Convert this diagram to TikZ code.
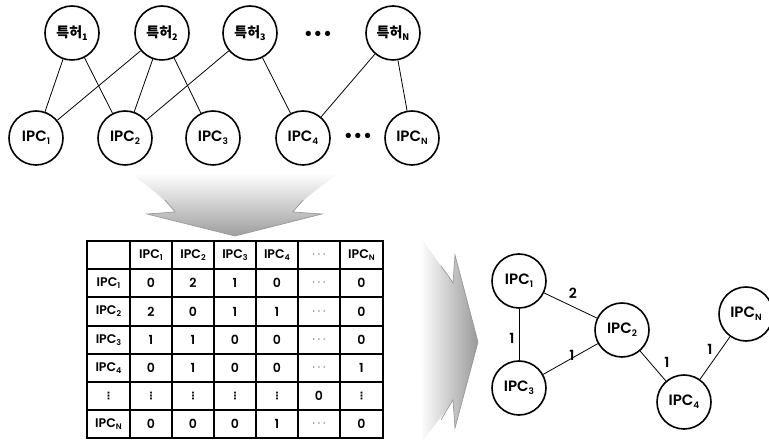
\documentclass[tikz,border=0pt]{standalone}
\usepackage{fontspec}
\setmainfont{Poppins}[UprightFont={* Medium},BoldFont={* SemiBold}]
\newfontfamily\kr{Noto Sans CJK KR}
\newfontfamily\dv{DejaVu Sans}
\newcommand\lo[1]{\raisebox{-0.35ex}{\fontsize{9}{9}\selectfont #1}}
\newcommand\tlo[1]{\raisebox{-0.3ex}{\fontsize{8}{8}\selectfont #1}}
\newcommand\I[1]{IPC\tlo{#1}}
\newcommand\cd{\textcolor{black!75}{$\cdots$}}
\newcommand\vd{{\dv\bfseries\fontsize{10}{10}\selectfont ⋮}}
\newcommand\tabrow[3]{%
  \foreach \t [count=\c] in {#3}{%
    \pgfmathsetmacro\cx{{108.5,151,193,235,277,319,361.5}[\c-1]}%
    \node[cell] (t#2-\c) at (\cx,#1) {\t};}}
\tikzset{
  vtx/.style={circle,draw,line width=1.6pt,minimum size=54pt,inner sep=0pt,
    font=\bfseries\fontsize{15}{15}\selectfont},
  pat/.style={vtx,font=\kr\bfseries\fontsize{14}{14}\selectfont},
  link/.style={line width=0.8pt},
  wt/.style={font=\bfseries\fontsize{14}{14}\selectfont,inner sep=1pt},
  cell/.style={font=\bfseries\fontsize{12.5}{12.5}\selectfont,inner sep=0pt},
  dots/.style={font=\dv\bfseries\fontsize{15}{15}\selectfont},
  arrowline/.style={draw=black!40,line width=0.7pt,line join=miter},
}
\begin{document}
\begin{tikzpicture}[x=1pt,y=-1pt]
\useasboundingbox (0,0) rectangle (769,443);

% patent nodes
\node[pat] (p1) at (72,33) {특허\lo{1}};
\node[pat] (p2) at (162,33) {특허\lo{2}};
\node[pat] (p3) at (250,33) {특허\lo{3}};
\node[dots] (pd) at (318,35) {•••};
\node[pat] (pn) at (393,33) {특허\lo{N}};

% IPC nodes of the bipartite graph
\node[vtx] (a1) at (36,138) {IPC\lo{1}};
\node[vtx] (a2) at (125,138) {IPC\lo{2}};
\node[vtx] (a3) at (213,138) {IPC\lo{3}};
\node[vtx] (a4) at (303,138) {IPC\lo{4}};
\node[dots] (ad) at (358,137) {•••};
\node[vtx] (an) at (412,138) {IPC\lo{N}};

\draw[link] (p1) -- (a1);
\draw[link] (p1) -- (a2);
\draw[link] (p2) -- (a1);
\draw[link] (p2) -- (a2);
\draw[link] (p2) -- (a3);
\draw[link] (p3) -- (a2);
\draw[link] (p3) -- (a4);
\draw[link] (pn) -- (a4);
\draw[link] (pn) -- (an);

% downward arrow
\shade[top color=white,bottom color=black!38]
  (130,173) .. controls (150,188) and (166,200) .. (175,212) -- (147,214)
  -- (235,236) -- (322,214) -- (293,212)
  .. controls (302,200) and (318,188) .. (340,173) -- cycle;
\draw[arrowline] (165,200) .. controls (169,205) and (172,208) .. (175,212)
  -- (147,214) -- (235,236) -- (322,214) -- (293,212)
  .. controls (296,208) and (299,205) .. (303,200);

% rightward arrow
\shade[left color=white,right color=black!40]
  (420,235) .. controls (432,255) and (445,270) .. (453,283) -- (455,255)
  -- (478,342) -- (455,428) -- (453,400)
  .. controls (445,413) and (432,428) .. (422,442) -- cycle;
\draw[arrowline] (441,266) .. controls (446,273) and (450,278) .. (453,283)
  -- (455,255) -- (478,342) -- (455,428) -- (453,400)
  .. controls (450,405) and (446,411) .. (441,420);

% co-occurrence table
\draw[line width=1.1pt]
  \foreach \x in {130,172,214,256,298,340} {(\x,241) -- (\x,438)}
  \foreach \y in {269,297,326,354,382,410} {(87,\y) -- (383,\y)};
\draw[line width=1.6pt] (87,241) rectangle (383,438);
\tabrow{255}{0}{{},\I{1},\I{2},\I{3},\I{4},\cd,\I{N}}
\tabrow{283}{1}{\I{1},0,2,1,0,\cd,0}
\tabrow{311.5}{2}{\I{2},2,0,1,1,\cd,0}
\tabrow{340}{3}{\I{3},1,1,0,0,\cd,0}
\tabrow{368}{4}{\I{4},0,1,0,0,\cd,1}
\tabrow{396}{5}{\vd,\vd,\vd,\vd,\vd,0,\vd}
\tabrow{424}{6}{\I{N},0,0,0,1,\cd,0}

% weighted IPC network
\node[vtx] (b1) at (519,281) {IPC\lo{1}};
\node[vtx] (b2) at (622,330) {IPC\lo{2}};
\node[vtx] (b3) at (519,388) {IPC\lo{3}};
\node[vtx] (b4) at (684,402) {IPC\lo{4}};
\node[vtx] (bn) at (746,314) {IPC\lo{N}};

\draw[link] (b1) -- (b2);
\draw[link] (b1) -- (b3);
\draw[link] (b3) -- (b2);
\draw[link] (b2) -- (b4);
\draw[link] (b4) -- (bn);

\node[wt] (w12) at (573,293) {2};
\node[wt] (w13) at (512,338) {1};
\node[wt] (w32) at (572,355) {1};
\node[wt] (w24) at (667,362) {1};
\node[wt] (w4n) at (710,349) {1};
\end{tikzpicture}
\end{document}
